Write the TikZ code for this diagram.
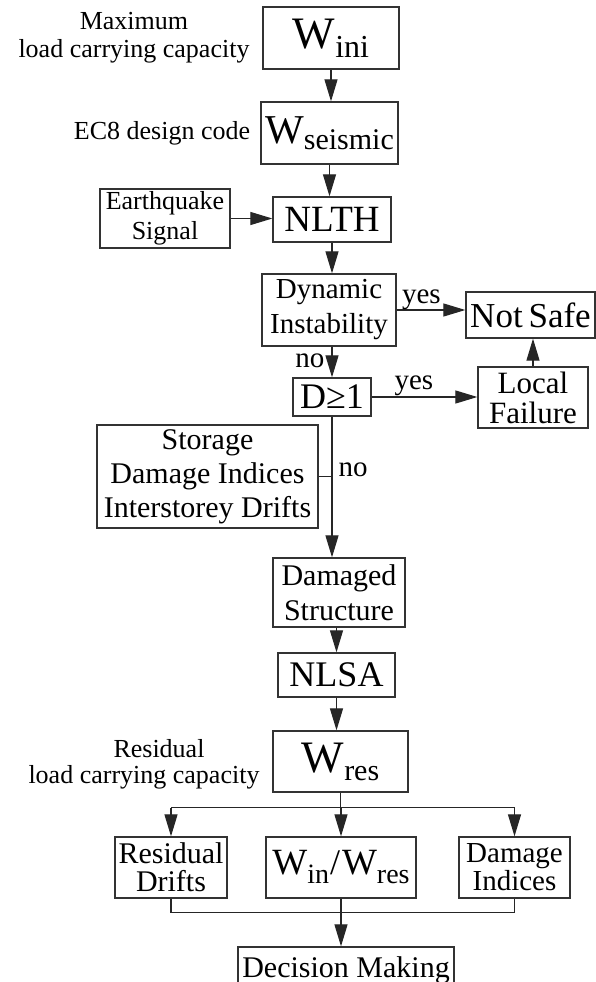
\documentclass[tikz,border=0pt]{standalone}
\usepackage{fontspec}
\setmainfont{Liberation Serif}
\usetikzlibrary{arrows.meta,calc}
\newcommand{\fs}[1]{\fontsize{#1}{#1}\selectfont}
\newcommand{\Wsub}[4]{{\fs{#1}W}\raisebox{-#4pt}{\fs{#3}#2}}
\begin{document}
\begin{tikzpicture}[x=1pt,y=-1pt,
  box/.style={draw=black!80, line width=1.3pt, inner sep=0pt, align=center},
  arr/.style={draw=black!85, line width=1.2pt, -{Triangle[length=22pt,width=13pt]}},
  ln/.style={draw=black!85, line width=1.2pt},
  lbl/.style={inner sep=0pt, align=center, font=\fontsize{26}{28}\selectfont},
  yn/.style={inner sep=0pt, font=\fs{29}},
]
\useasboundingbox (0,0) rectangle (596,982);
\clip (0,0) rectangle (596,982);

% boxes
\node[box, minimum width=136, minimum height=62] (wini) at (331,38) {\Wsub{45}{ini}{32}{9}};
\node[box, minimum width=137, minimum height=62] (wseis) at (329.5,133) {\Wsub{41}{seismic}{30}{6}};
\node[box, minimum width=130, minimum height=59, font=\fontsize{26}{30}\selectfont] (eq) at (165,218.5) {Earthquake\\Signal};
\node[box, minimum width=118, minimum height=45, font=\fs{37}] (nlth) at (332,219.5) {NLTH};
\node[box, minimum width=134, minimum height=72, font=\fontsize{29}{35}\selectfont] (dyn) at (329,310) {Dynamic\\Instability};
\node[box, minimum width=129, minimum height=46, font=\fs{35}] (ns) at (530.5,315) {Not\,Safe};
\node[box, minimum width=78, minimum height=38, font=\fs{36}] (d) at (332,397) {D≥1};
\node[box, minimum width=110, minimum height=61, font=\fontsize{31}{30}\selectfont] (lf) at (533,397.5) {Local\\Failure};
\node[box, minimum width=221, minimum height=103, font=\fontsize{30}{34}\selectfont] (st) at (207.5,476.5) {Storage\\Damage Indices\\Interstorey Drifts};
\node[box, minimum width=132, minimum height=69, font=\fontsize{30}{35}\selectfont] (dmg) at (339,592.5) {Damaged\\Structure};
\node[box, minimum width=117, minimum height=44, font=\fs{36}] (nlsa) at (336.5,675) {NLSA};
\node[box, minimum width=135, minimum height=61] (wres) at (340.5,761.5) {\Wsub{45}{res}{30}{8}};
\node[box, minimum width=112, minimum height=61, font=\fontsize{30}{28}\selectfont] (rd) at (171,867.5) {Residual\\Drifts};
\node[box, minimum width=150, minimum height=61] (ratio) at (341,867.5) {\Wsub{37}{in}{28}{9}\hspace{1pt}{\fs{36}/}\hspace{2pt}\Wsub{37}{res}{28}{9}};
\node[box, minimum width=216, minimum height=48, font=\fs{30}] (dm) at (346,971) {\raisebox{8pt}{Decision Making}};
\node[box, minimum width=111, minimum height=61, font=\fontsize{29}{28}\selectfont] (di) at (514.5,867.5) {Damage\\Indices};

% side labels
\node[lbl] (lmax) at (134,38) {Maximum\\load carrying capacity};
\node[lbl] (lec) at (162,133) {EC8 design code};
\node[lbl] (lres1) at (159,749) {Residual};
\node[lbl] (lres2) at (144,777) {load carrying capacity};

% connectors
\draw[arr] (wini.south) -- (wini.south |- wseis.north);
\draw[arr] (wseis.south) -- (wseis.south |- nlth.north);
\draw[arr] (eq.east) -- (eq.east -| nlth.west);
\draw[arr] (nlth.south) -- (nlth.south |- dyn.north);
\draw[arr] (dyn.east) -- (dyn.east -| ns.west) node[yn, pos=0.36, above=0pt] (yes1) {yes};
\draw[arr] (d.north |- dyn.south) -- (d.north) node[yn, pos=0.45, left=7pt] (no1) {no};
\draw[arr] (d.east) -- (d.east -| lf.west) node[yn, pos=0.4, above=1pt] (yes2) {yes};
\draw[arr] (lf.north) -- (lf.north |- ns.south);
\draw[arr] (d.south) -- (d.south |- dmg.north) node[yn, pos=0.38, right=6pt] (no2) {no};
\draw[ln] (st.east) -- (st.east -| d.south);
\draw[arr] (nlsa.north |- dmg.south) -- (nlsa.north);
\draw[arr] (nlsa.south) -- (nlsa.south |- wres.north);

\coordinate (br) at ($(wres.south)+(0,15)$);
\draw[ln] (wres.south) -- (br);
\draw[ln] (rd.north |- br) -- (di.north |- br);
\draw[arr] (rd.north |- br) -- (rd.north);
\draw[arr] (ratio.north |- br) -- (ratio.north);
\draw[arr] (di.north |- br) -- (di.north);

\coordinate (jn) at ($(ratio.south)+(0,14)$);
\draw[ln] (rd.south) -- (rd.south |- jn) -- (di.south |- jn) -- (di.south);
\draw[arr] (ratio.south) -- (ratio.south |- dm.north);
\end{tikzpicture}
\end{document}
